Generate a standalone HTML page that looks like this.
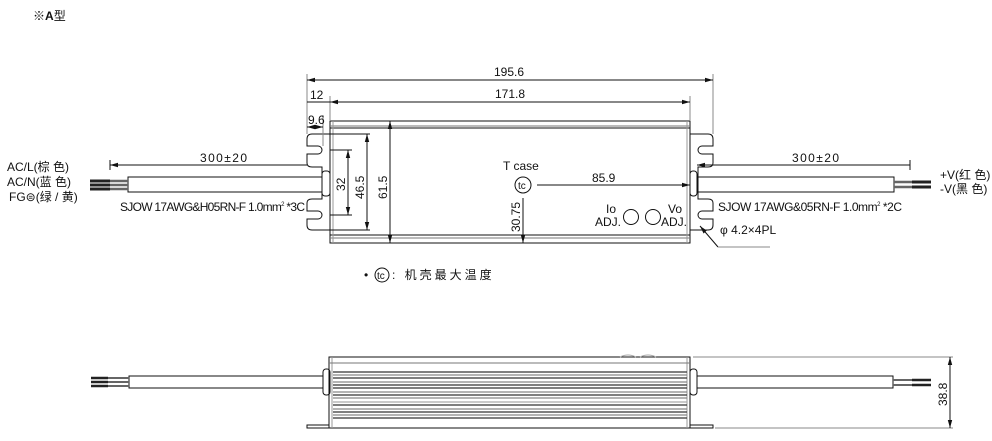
<!DOCTYPE html>
<html><head><meta charset="utf-8"><style>
html,body{margin:0;padding:0;background:#fff;}
svg{display:block;}
text{font-family:"Liberation Sans","Noto Sans CJK SC",sans-serif;fill:#111;}
</style></head><body>
<svg width="992" height="441" viewBox="0 0 992 441" xmlns="http://www.w3.org/2000/svg">
<defs>
<marker id="a" markerWidth="8" markerHeight="6" refX="8" refY="3" orient="auto-start-reverse" markerUnits="userSpaceOnUse"><path d="M0,0.8 L8,3 L0,5.2z" fill="#111"/></marker>
</defs>
<text x="33" y="20" font-size="12">※<tspan font-weight="bold">A</tspan>型</text>

<g stroke="#111" stroke-width="1" fill="none">
<rect x="330" y="121" width="360" height="122"/>
<line x1="330" y1="126" x2="690" y2="126" stroke="#777"/>
<line x1="330" y1="128" x2="690" y2="128"/>
<line x1="330" y1="235" x2="690" y2="235"/>
<line x1="330" y1="238" x2="690" y2="238" stroke="#777"/>
<line x1="333" y1="121" x2="333" y2="243" stroke="#999"/>
<line x1="687" y1="121" x2="687" y2="243" stroke="#999"/>
<path d="M330,134 H312 Q307,134 307,139 V146 H318 A4,4 0 0 1 318,154 H307 V163 Q307,167 312,167 H322 V199 H312 Q307,199 307,203 V211 H318 A4,4 0 0 1 318,219 H307 V225 Q307,230 312,230 H330"/>
<path d="M690,134 H708 Q713,134 713,139 V146 H702 A4,4 0 0 0 702,154 H713 V163 Q713,167 708,167 H698 V199 H708 Q713,199 713,203 V211 H702 A4,4 0 0 0 702,219 H713 V225 Q713,230 708,230 H690"/>
<rect x="322" y="171" width="8" height="25" rx="3"/>
<rect x="690" y="171" width="7" height="25" rx="3"/>
<rect x="128" y="177" width="194" height="15"/>
<line x1="90" y1="181" x2="128" y2="181" stroke="#666" stroke-width="2.5"/>
<line x1="90" y1="185" x2="128" y2="185" stroke="#666" stroke-width="2.5"/>
<line x1="90" y1="189" x2="128" y2="189" stroke="#666" stroke-width="2.5"/>
<line x1="90" y1="181" x2="110" y2="181" stroke="#222" stroke-width="3"/>
<line x1="90" y1="185" x2="110" y2="185" stroke="#222" stroke-width="3"/>
<line x1="90" y1="189" x2="110" y2="189" stroke="#222" stroke-width="3"/>
<rect x="697" y="177" width="197" height="15"/>
<line x1="894" y1="182" x2="931" y2="182" stroke="#666" stroke-width="2.5"/>
<line x1="894" y1="187" x2="931" y2="187" stroke="#666" stroke-width="2.5"/>
<line x1="912" y1="182" x2="931" y2="182" stroke="#222" stroke-width="3"/>
<line x1="912" y1="187" x2="931" y2="187" stroke="#222" stroke-width="3"/>

<line x1="307" y1="74" x2="307" y2="134" stroke="#888"/>
<line x1="713" y1="74" x2="713" y2="134" stroke="#888"/>
<line x1="307" y1="80" x2="713" y2="80" marker-start="url(#a)" marker-end="url(#a)"/>
<line x1="330" y1="96" x2="330" y2="121" stroke="#888"/>
<line x1="690" y1="96" x2="690" y2="121" stroke="#888"/>
<line x1="330" y1="102" x2="690" y2="102" marker-start="url(#a)" marker-end="url(#a)"/>
<line x1="307" y1="102" x2="330" y2="102"/>
<line x1="323" y1="115" x2="323" y2="146" stroke="#888"/>
<line x1="307" y1="127" x2="323" y2="127" marker-start="url(#a)" marker-end="url(#a)"/>
<line x1="110" y1="160" x2="110" y2="170"/>
<line x1="110" y1="165" x2="307" y2="165" marker-start="url(#a)"/>
<line x1="910" y1="160" x2="910" y2="170"/>
<line x1="697" y1="165" x2="910" y2="165" marker-start="url(#a)"/>
<line x1="330" y1="150" x2="352" y2="150"/>
<line x1="330" y1="215" x2="352" y2="215"/>
<line x1="348" y1="150" x2="348" y2="215" marker-start="url(#a)" marker-end="url(#a)"/>
<line x1="330" y1="134" x2="370" y2="134"/>
<line x1="330" y1="230" x2="370" y2="230"/>
<line x1="367" y1="134" x2="367" y2="230" marker-start="url(#a)" marker-end="url(#a)"/>
<line x1="390" y1="121" x2="390" y2="243" marker-start="url(#a)" marker-end="url(#a)"/>
<line x1="523" y1="198" x2="523" y2="243" marker-end="url(#a)"/>
<circle cx="523" cy="185" r="8"/>
<line x1="537" y1="185" x2="690" y2="185" marker-end="url(#a)"/>
<circle cx="631" cy="217" r="7.5"/>
<circle cx="653" cy="217" r="7.5"/>
<line x1="718" y1="247" x2="700" y2="226" marker-end="url(#a)"/>
<line x1="718" y1="247" x2="770" y2="247" stroke="#888"/>

<rect x="329" y="357" width="361" height="71"/>
<line x1="332" y1="357" x2="332" y2="428" stroke="#999"/>
<line x1="687" y1="357" x2="687" y2="428" stroke="#999"/>
<line x1="329" y1="363" x2="690" y2="363" stroke="#777"/>
<path d="M620,357 Q628,353 636,357 M640,357 Q648,353 656,357" stroke="#aaa"/>
<rect x="307" y="425" width="22" height="3"/>
<rect x="690" y="425" width="23" height="3"/>
<rect x="323" y="369" width="7" height="26" rx="3"/>
<rect x="690" y="369" width="7" height="26" rx="3"/>
<rect x="129" y="376" width="194" height="12"/>
<rect x="697" y="376" width="196" height="12"/>
<line x1="91" y1="378" x2="129" y2="378" stroke="#666" stroke-width="2"/>
<line x1="91" y1="382" x2="129" y2="382" stroke="#666" stroke-width="2"/>
<line x1="91" y1="386" x2="129" y2="386" stroke="#666" stroke-width="2"/>
<line x1="91" y1="378" x2="108" y2="378" stroke="#222" stroke-width="2.5"/>
<line x1="91" y1="382" x2="108" y2="382" stroke="#222" stroke-width="2.5"/>
<line x1="91" y1="386" x2="108" y2="386" stroke="#222" stroke-width="2.5"/>
<line x1="893" y1="380" x2="931" y2="380" stroke="#666" stroke-width="2"/>
<line x1="893" y1="385" x2="931" y2="385" stroke="#666" stroke-width="2"/>
<line x1="912" y1="380" x2="931" y2="380" stroke="#222" stroke-width="2.5"/>
<line x1="912" y1="385" x2="931" y2="385" stroke="#222" stroke-width="2.5"/>
<line x1="693" y1="357" x2="953" y2="357" stroke="#888"/>
<line x1="715" y1="428" x2="953" y2="428" stroke="#888"/>
<line x1="950" y1="357" x2="950" y2="428" marker-start="url(#a)" marker-end="url(#a)"/>
</g>
<g stroke-width="1.2">
<line x1="333" y1="372" x2="687" y2="372" stroke="#333"/>
<line x1="333" y1="375" x2="687" y2="375" stroke="#888"/>
<line x1="333" y1="378" x2="687" y2="378" stroke="#333"/>
<line x1="333" y1="382" x2="687" y2="382" stroke="#888"/>
<line x1="333" y1="385" x2="687" y2="385" stroke="#333"/>
<line x1="333" y1="388" x2="687" y2="388" stroke="#333"/>
<line x1="333" y1="392" x2="687" y2="392" stroke="#888"/>
<line x1="333" y1="395" x2="687" y2="395" stroke="#333"/>
<line x1="333" y1="398" x2="687" y2="398" stroke="#888"/>
<line x1="333" y1="402" x2="687" y2="402" stroke="#aaa"/>
<line x1="333" y1="405" x2="687" y2="405" stroke="#333"/>
<line x1="333" y1="409" x2="687" y2="409" stroke="#888"/>
<line x1="333" y1="412" x2="687" y2="412" stroke="#333"/>
<line x1="333" y1="415" x2="687" y2="415" stroke="#888"/>
<line x1="333" y1="418" x2="687" y2="418" stroke="#333"/>
</g>

<g font-size="12">
<text x="494" y="76">195.6</text>
<text x="495" y="98">171.8</text>
<text x="310" y="99">12</text>
<text x="308" y="124">9.6</text>
<text x="200" y="162" textLength="47">300±20</text>
<text x="792" y="162" textLength="47">300±20</text>
<text x="592" y="182">85.9</text>
<text x="503" y="170">T case</text>
<text x="518" y="189" font-size="10">tc</text>
<text x="120" y="211" textLength="185">SJOW 17AWG&amp;H05RN-F 1.0mm<tspan font-size="6" dy="-5">2</tspan><tspan dy="5"> *3C</tspan></text>
<text x="718" y="211" textLength="184">SJOW 17AWG&amp;05RN-F 1.0mm<tspan font-size="6" dy="-5">2</tspan><tspan dy="5"> *2C</tspan></text>
<text x="720" y="234">φ 4.2×4PL</text>
<text x="606" y="213">Io</text>
<text x="595" y="226">ADJ.</text>
<text x="668" y="213">Vo</text>
<text x="661" y="226">ADJ.</text>
<text x="7" y="171">AC/L(棕 色)</text>
<text x="7" y="186">AC/N(蓝 色)</text>
<text x="9" y="201">FG⊜(绿 / 黄)</text>
<text x="940" y="179">+V(红 色)</text>
<text x="940" y="193">-V(黑 色)</text>
<text transform="translate(345,191) rotate(-90)">32</text>
<text transform="translate(364,199) rotate(-90)">46.5</text>
<text transform="translate(387,199) rotate(-90)">61.5</text>
<text transform="translate(520,232) rotate(-90)">30.75</text>
<text transform="translate(947,406) rotate(-90)">38.8</text>
<text x="364" y="279">•</text>
<text x="377" y="279" font-size="10">tc</text>
<text x="392" y="279" font-size="12" letter-spacing="3">: 机壳最大温度</text>
</g>
<circle cx="382" cy="275" r="7" stroke="#111" fill="none"/>
</svg>
</body></html>
